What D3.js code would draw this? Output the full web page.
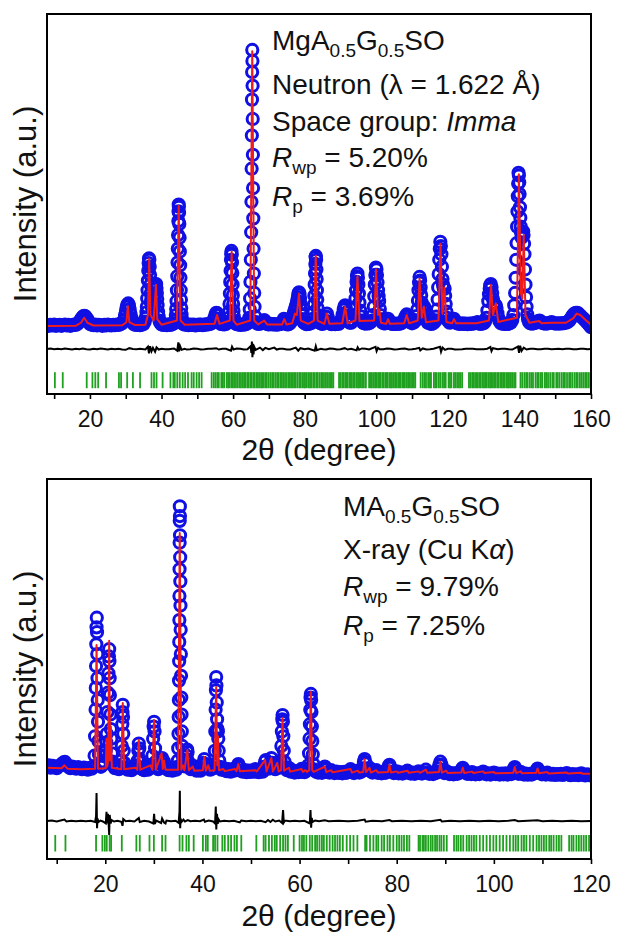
<!DOCTYPE html>
<html>
<head>
<meta charset="utf-8">
<script src="https://cdn.jsdelivr.net/npm/d3@7/dist/d3.min.js"></script>
<style>
  body { margin: 0; background: #ffffff; }
  text { font-family: "Liberation Sans", Arial, sans-serif; fill: #111; }
</style>
</head>
<body>
<svg id="fig" width="617" height="935"></svg>
<script>
// ---------- Neutron pattern (2θ in degrees, intensity in a.u.) ----------
const neutronObs = [
[8,3],[8.5,1],[9,4],[9.5,2],[10,5],[10.5,1],[11,3],[11.5,4],[12,1],[12.5,3],[13,5],[13.5,2],[14,4],[14.5,1],[15,3],[15.5,5],[16,4],[16.5,8],
[17,14],[17.3,20],[17.6,26],[17.9,32],[18.2,36],[18.5,37],[18.8,34],[19.1,28],[19.4,22],[19.7,14],[20,8],[20.5,5],
[21,3],[21.5,5],[22,2],[22.5,4],[23,3],[23.5,1],[24,4],[24.5,2],[25,5],[25.5,3],[26,2],[26.5,4],[27,3],[27.5,5],[28,4],[28.5,7],
[29,10],[29.4,20],[29.8,40],[30.1,58],[30.3,70],[30.5,78],[30.7,82],[30.9,74],[31.1,60],[31.35,44],[31.6,28],[31.9,16],[32.2,8],[32.6,5],
[33,4],[33.5,6],[34,3],[34.5,5],
[35,8],[35.3,16],[35.6,30],[35.8,50],[35.9,70],[36.0,100],[36.1,130],[36.2,165],[36.3,200],[36.4,228],[36.5,245],[36.6,240],[36.7,215],[36.8,185],[36.9,150],[37.0,120],[37.1,95],[37.2,80],[37.3,70],[37.45,60],[37.6,55],[37.75,65],[37.9,80],[38.0,98],[38.1,115],[38.2,132],[38.3,145],[38.4,151],[38.5,152],[38.6,138],[38.7,120],[38.8,98],[38.9,75],[39.05,52],[39.2,35],[39.4,20],[39.6,12],
[40,6],[40.5,4],[41,5],[41.5,3],[42,6],[42.5,4],[43,7],[43.5,10],[43.8,20],
[44.0,40],[44.1,62],[44.2,90],[44.3,130],[44.4,180],[44.48,230],[44.55,280],[44.62,330],[44.7,380],[44.75,415],[44.8,440],[44.85,432],[44.9,410],[44.97,370],[45.05,320],[45.12,270],[45.2,220],[45.28,175],[45.35,130],[45.42,95],[45.5,65],[45.6,42],[45.7,25],[45.9,14],[46.1,8],[46.5,5],
[47,6],[47.5,3],[48,5],[48.5,4],[49,5],[49.5,2],[50,4],[50.5,5],[51,5],[51.5,3],[52,5],[52.5,6],[53,6],[53.5,8],[54,10],[54.4,18],[54.8,30],[55.1,42],[55.3,48],[55.5,47],[55.7,40],[55.95,26],[56.2,13],[56.6,8],[57,7],[57.5,6],[58,8],[58.4,14],
[58.8,30],[58.9,52],[59.0,80],[59.1,118],[59.2,160],[59.3,200],[59.4,240],[59.48,262],[59.55,272],[59.62,258],[59.7,230],[59.78,192],[59.85,150],[59.92,112],[60.0,80],[60.1,55],[60.2,35],[60.4,18],[60.6,10],
[61,7],[61.5,6],[62,4],[62.5,6],[63,5],[63.5,7],[63.9,9],[64.2,12],[64.35,20],
[64.5,30],[64.65,60],[64.75,100],[64.85,160],[64.95,240],[65.05,340],[65.12,450],[65.18,570],[65.24,690],[65.28,820],[65.32,920],[65.36,1000],[65.40,960],[65.44,870],[65.48,750],[65.53,620],[65.58,500],[65.64,390],[65.72,280],[65.8,190],[65.9,120],[66.0,70],[66.15,35],[66.4,14],[66.7,10],
[67,8],[67.5,9],[68,10],[68.35,16],[68.7,22],[69.0,15],[69.3,9],[69.7,7],[70,6],[70.5,8],[71,6],[71.5,7],[72,5],[72.5,6],[73,7],[73.5,9],[73.9,16],[74.2,26],[74.5,18],[74.9,8],[75.2,6],[75.5,7],[75.9,10],
[76.3,18],[76.55,28],[76.8,40],[77.05,52],[77.3,62],[77.5,70],[77.7,80],[77.9,92],[78.1,105],[78.25,115],[78.4,122],[78.55,115],[78.7,100],[78.85,80],[79.0,60],[79.2,40],[79.4,25],[79.7,14],[80,10],[80.5,7],[81,8],[81.5,9],[82,12],[82.3,26],
[82.5,50],[82.6,78],[82.7,110],[82.8,150],[82.9,190],[82.98,225],[83.05,250],[83.12,254],[83.2,240],[83.28,205],[83.35,170],[83.42,130],[83.5,95],[83.6,65],[83.7,40],[83.9,22],[84.2,12],[84.6,9],[85,8],[85.4,12],[85.7,20],[85.95,34],[86.2,45],[86.45,32],[86.7,16],[87.1,9],[87.5,7],[88,8],[88.5,7],[89,9],[89.5,8],[89.9,14],
[90.3,25],[90.6,42],[90.9,60],[91.1,70],[91.3,75],[91.5,66],[91.7,50],[91.95,32],[92.2,18],[92.6,12],[93,12],[93.4,20],
[93.8,40],[94.0,68],[94.2,100],[94.35,130],[94.5,160],[94.62,180],[94.75,190],[94.88,175],[95.0,150],[95.15,118],[95.3,85],[95.5,56],[95.7,35],[96.0,20],[96.3,12],[96.6,10],[97,9],[97.5,10],[98,10],[98.4,14],[98.8,20],[99.05,40],
[99.3,70],[99.45,108],[99.6,150],[99.75,185],[99.9,212],[100.05,205],[100.2,185],[100.35,158],[100.5,130],[100.65,108],[100.8,90],[101.0,62],[101.2,40],[101.45,24],[101.7,13],[102.1,10],[102.5,10],[102.9,16],[103.3,26],[103.65,18],[104,10],[104.5,8],
[105,8],[105.5,9],[106,8],[106.5,9],[107,10],[107.4,15],[107.8,24],[108.15,34],[108.5,42],[108.8,34],[109.1,22],[109.5,14],[110,10],[110.5,13],[111,20],[111.25,36],
[111.5,60],[111.65,92],[111.8,130],[111.95,158],[112.1,178],[112.25,165],[112.4,140],[112.55,112],[112.7,85],[112.9,70],[113.1,65],[113.25,68],[113.4,70],[113.6,56],[113.8,40],[114.1,24],[114.4,12],[115,9],[115.5,8],[116,11],
[116.5,18],[116.75,34],[117.0,60],[117.15,96],[117.3,140],[117.45,188],[117.6,240],[117.75,280],[117.9,305],[118.05,290],[118.2,260],[118.35,215],[118.5,170],[118.65,150],[118.8,140],[118.95,138],[119.1,135],[119.25,110],[119.4,80],[119.6,52],[119.8,30],[120.1,18],[120.5,12],[120.9,14],[121.3,18],[121.7,26],[122.1,16],[122.5,10],[123,9],[123.5,8],[124,10],[124.5,8],[125,9],[125.5,7],[126,9],[126.5,8],[127,10],[127.5,10],[127.9,12],[128.3,14],[128.6,11],[129,8],[129.5,9],[130,10],[130.4,16],
[130.8,30],[131.05,56],[131.3,90],[131.5,115],[131.7,135],[131.85,148],[132.0,152],[132.2,140],[132.4,120],[132.6,98],[132.8,80],[133.0,76],[133.2,78],[133.4,74],[133.6,65],[133.85,46],[134.1,30],[134.4,18],[134.8,10],[135.3,9],[135.8,8],[136.3,9],[136.8,8],[137.2,10],[137.6,12],[138.0,22],
[138.3,40],[138.55,75],[138.8,120],[138.95,175],[139.1,240],[139.22,300],[139.35,360],[139.45,415],[139.55,470],[139.65,515],[139.75,555],[139.85,545],[139.95,520],[140.05,478],[140.15,430],[140.25,392],[140.35,360],[140.45,338],[140.6,320],[140.75,328],[140.9,340],[141.05,342],[141.15,330],[141.3,298],[141.4,260],[141.55,205],[141.7,150],[141.85,105],[142.0,70],[142.2,42],[142.4,25],[142.7,15],
[143,10],[143.5,9],[144,10],[144.5,12],[145,14],[145.3,18],[145.6,20],[145.9,17],[146.3,12],[146.7,10],[147,10],[147.5,9],[148,10],[148.5,12],[149,14],[149.5,11],[150,9],[150.5,10],[151,9],[151.5,10],[152,10],[152.5,11],[153,12],[153.5,15],
[154,20],[154.4,28],[154.8,36],[155.1,42],[155.5,46],[155.8,48],[156.2,48],[156.6,44],[157,38],[157.4,33],[157.8,28],[158.2,23],[158.6,18],[158.9,13],[159.3,8],[159.6,3],[160,-4]
];
const neutronCalc = [
[8,0],[16,1],[17.5,12],[18.4,30],[19.3,12],[21,2],[29,3],[30.2,14],[30.6,72],[31.0,14],[32.5,4],[35.5,5],[36.2,40],[36.55,245],[36.9,40],[37.8,20],[38.45,150],[38.8,25],[40,5],
[44.3,20],[44.8,435],[45.3,20],[46.5,5],[54.8,8],[55.5,40],[56.2,8],[59.1,20],[59.6,270],[60.1,20],[61,5],[64.8,20],[65.35,995],[65.9,20],[67,6],[68.7,20],[69.5,6],[73.7,6],[74.3,25],[74.9,6],
[76.5,10],[77.3,45],[77.8,40],[78.4,118],[78.9,20],[81,8],[82.6,20],[83.1,255],[83.6,20],[85.5,8],[86.2,45],[86.9,8],[90.5,10],[91.3,70],[92,10],[94.2,20],[94.75,180],[95.3,18],
[99.4,20],[99.95,205],[100.5,40],[100.9,60],[101.3,12],[102.8,8],[103.3,25],[103.8,8],[107.8,10],[108.5,40],[109.2,10],[111.6,20],[112.1,172],[112.7,30],[113.3,70],[113.9,14],
[117.4,20],[117.95,298],[118.5,45],[119.05,140],[119.6,15],[121.2,10],[121.7,25],[122.3,10],[128,10],[131.5,20],[132.05,150],[132.6,40],[133.4,82],[134.1,15],
[139.3,30],[139.85,550],[140.4,120],[140.8,100],[141.2,330],[141.7,40],[142.8,12],[145.5,18],[146.2,10],[149,12],[153,12],[155,28],[156,45],[157,40],[158.5,22],[160,5]
];
const neutronDiff = [
[8,0],[9,2],[10,-1],[11,1],[12,-1],[13,2],[14,0],[15,-2],[16,1],[17,-1],[18,2],[19,-1],[20,-2],[21,1],[22,-1],[23,2],[24,0],[25,-2],[26,1],[27,-1],[28,1],[29,-2],[30,-3],[31,3],[32,0],[33,-1],[34,1],[35.5,-2],[36.2,8],[36.5,-16],[36.8,10],[37.2,-8],[37.6,4],[38.2,-10],[38.6,6],[39.2,-2],[40,1],
[41,-1],[42,-1],[43,1],[43.5,2],[44.4,-6],[44.7,24],[44.9,-8],[45.2,10],[45.6,-3],[46.5,1],[47,-2],[48,-1],[49,2],[50,1],[51,-2],[52,-1],[53,1],[54,1],[55.3,3],[56,-2],[57,1],[58,1],[59.4,-6],[59.7,8],[60.1,-2],[61,2],[62,1],[63,-2],[64,-1],
[64.9,10],[65.1,-14],[65.25,27],[65.4,-30],[65.55,18],[65.7,-20],[65.9,8],[66.3,-3],[67.5,5],[68.3,-4],[69,4],[70,-1],[71.5,5],[72.2,-2],[73,1],[74,1],[75,-2],[76,-2],[77.5,5],[78.2,-6],[78.8,3],[80,-1],[81,2],
[82.8,-6],[83.1,10],[83.4,-4],[84.5,1],[85.2,-1],[86,-2],[87,2],[88,1],[89,-2],[90,-1],[91.2,3],[92,-2],[93,1],[94.5,-5],[94.8,6],[95.2,-3],[96,2],[97,1],[98,-2],[99.8,8],[100.1,-8],[100.5,4],[101,-1],[102,-1],[103,2],[104,1],[105,-2],[106,-1],[107,1],[108,2],[109,-2],[110,-1],
[111,1],[112,4],[112.3,-5],[113,2],[114,-2],[115,-1],[116,1],[117.8,8],[118.1,-10],[118.5,5],[119.2,-3],[120,1],[121,1],[122,-2],[124,-1],[125,1],[127,1],[128,-1],[130,-1],[131,1],[131.9,7],[132.2,-8],[132.6,3],[134,-1],[135,1],[136,1],[137,-1],[138,-2],
[139.6,9],[139.9,-14],[140.2,12],[140.6,-7],[141.2,5],[142,-2],[143,1],[144,1],[145,-1],[146,-1],[147,1],[148,1],[149,-1],[150,0],[151,1],[152,-1],[153,1],[154,1],[155,-1],[156,-1],[157,1],[158,1],[159,-1],[160,0]
];
const neutronBragg = [10.2,12.4,19.1,20.7,21.5,22.3,24.5,28.1,28.7,30.4,32.0,34.0,37.2,37.9,38.6,40.3,42.5,43.3,43.7,44.4,45.1,45.9,46.6,47.4,48.4,49.0,49.8,50.5,51.2,
54.0,54.6,55.1,55.6,56.0,56.7,57.1,57.5,58.2,58.6,59.0,59.5,59.9,60.3,60.8,61.3,61.8,62.2,62.7,63.1,63.5,64.0,64.3,64.8,65.2,65.7,66.0,66.5,66.9,67.3,67.8,68.1,68.6,69.1,69.4,69.9,70.4,70.9,71.3,71.8,72.3,72.7,73.2,73.6,74.0,74.5,74.9,75.4,75.8,76.2,76.7,77.1,77.5,78.0,78.5,78.8,79.3,79.8,80.1,80.6,81.1,81.5,81.9,82.4,82.8,83.3,83.6,84.1,84.6,85.0,85.4,85.9,86.3,86.8,87.2,87.6,88.0,
89.6,90.0,90.5,90.8,91.3,91.7,92.0,92.5,92.9,93.2,93.7,94.0,94.5,94.9,95.2,95.7,96.1,96.4,96.9,97.1,
98.0,98.5,98.8,99.3,99.7,100.0,100.5,100.9,101.2,101.7,102.0,102.5,102.9,103.2,103.7,104.1,104.4,104.9,105.3,105.6,106.1,106.5,106.8,107.3,107.7,108.0,108.5,108.9,109.2,109.7,110.1,110.5,110.9,
112.4,113.0,113.5,113.9,114.5,115.0,115.3,116.1,116.5,116.9,117.5,118.0,118.6,119.0,119.4,120.2,120.6,121.0,121.7,122.1,122.6,123.1,123.5,124.0,
125.9,126.3,126.8,127.1,127.6,128.0,128.4,128.9,129.2,129.7,130.1,130.5,130.9,131.4,131.8,132.1,132.6,133.0,133.4,133.9,134.2,134.7,135.1,135.5,135.9,136.4,136.8,137.1,137.6,138.0,138.5,138.9,
140.3,140.8,141.4,141.9,142.3,142.9,143.4,143.8,144.5,145.0,145.4,146.0,146.4,147.1,147.5,148.0,148.6,149.2,149.6,150.3,150.7,151.2,151.8,152.3,152.7,153.3,153.9,154.3,154.8,155.4,155.9,156.3,156.9,157.4,157.9,158.4,158.8,159.3,159.8];
const neutronTicks = [10,20,30,40,50,60,70,80,90,100,110,120,130,140,150,160];

// ---------- X-ray pattern ----------
const xrayObs = [
[8,34],[8.4,40],[8.8,30],[9.2,38],[9.6,33],[10.0,28],[10.4,36],[10.8,40],[11.1,46],[11.4,52],[11.7,54],[12.0,44],[12.4,34],[12.8,28],[13.2,35],[13.6,30],[14.0,26],[14.4,33],[14.8,28],[15.2,24],[15.6,31],[16.0,27],[16.4,22],[16.8,30],[17.2,26],[17.6,36],
[17.8,80],[17.9,160],[18.0,270],[18.05,360],[18.1,450],[18.15,540],[18.2,610],[18.25,650],[18.3,590],[18.35,500],[18.4,400],[18.45,310],[18.5,220],[18.6,140],[18.7,85],[18.9,50],
[19.1,34],[19.4,40],[19.7,55],[20.0,80],[20.1,100],[20.2,135],[20.3,170],[20.45,260],[20.55,340],[20.65,420],[20.75,490],[20.8,520],[20.85,470],[20.9,400],[20.95,330],[21.05,250],[21.15,190],[21.25,150],[21.35,90],[21.5,55],[21.7,38],[22.0,28],[22.4,32],[22.8,24],[23.1,34],
[23.3,60],[23.4,120],[23.5,210],[23.55,260],[23.6,290],[23.65,240],[23.7,170],[23.8,100],[23.95,50],[24.2,30],[24.6,22],[25.0,28],[25.4,20],[25.8,27],[26.1,35],[26.3,40],[26.5,32],[26.7,60],[26.8,100],[26.9,130],[27.0,110],[27.1,65],[27.3,32],[27.6,24],[28.0,20],[28.4,27],[28.8,22],[29.1,35],[29.3,42],[29.5,38],
[29.7,80],[29.85,150],[29.95,200],[30.05,220],[30.15,180],[30.25,110],[30.4,55],[30.6,34],[30.9,24],[31.2,32],[31.4,45],[31.55,65],[31.7,70],[31.9,45],[32.1,55],[32.3,38],[32.6,26],[33.0,20],[33.4,26],[33.8,18],[34.2,24],[34.6,22],[34.85,34],
[34.95,60],[35.02,110],[35.07,170],[35.11,240],[35.15,310],[35.18,390],[35.21,470],[35.23,550],[35.25,640],[35.27,740],[35.29,850],[35.31,960],[35.33,1050],[35.35,1110],[35.37,1070],[35.39,990],[35.42,900],[35.45,800],[35.48,700],[35.52,600],[35.56,500],[35.6,410],[35.65,320],[35.7,250],[35.76,180],[35.83,120],[35.9,80],
[36.0,55],[36.1,42],[36.3,36],[36.5,40],[36.65,60],[36.75,80],[36.85,105],[36.95,95],[37.1,55],[37.3,34],[37.6,24],[37.9,32],[38.1,38],[38.4,26],[38.8,18],[39.2,24],[39.6,18],[39.9,28],[40.2,50],[40.4,66],[40.6,45],[40.9,30],[41.1,38],[41.3,36],[41.6,22],[42.0,26],[42.3,30],
[42.4,45],[42.55,100],[42.65,180],[42.72,270],[42.78,350],[42.83,405],[42.88,370],[42.95,300],[43.02,230],[43.1,190],[43.18,180],[43.26,150],[43.35,100],[43.45,60],[43.6,34],
[43.9,22],[44.3,30],[44.6,20],[45.0,16],[45.4,24],[45.8,14],[46.2,20],[46.5,18],[46.7,28],[47.0,22],[47.2,36],[47.4,45],[47.6,34],[47.9,18],[48.3,14],[48.7,20],[49.1,12],[49.5,18],[49.9,13],[50.3,19],[50.7,14],[50.9,24],[51.2,16],[51.6,12],[52.0,18],[52.4,14],[52.7,34],[52.9,55],[53.05,62],[53.3,38],[53.6,26],[53.9,42],[54.2,70],[54.4,50],[54.7,30],[55.0,24],[55.2,38],[55.4,50],[55.6,44],[55.8,30],[56.0,36],
[56.1,60],[56.25,120],[56.35,180],[56.45,230],[56.5,248],[56.57,220],[56.65,160],[56.75,100],[56.9,55],[57.1,30],[57.4,20],[57.7,30],[57.9,28],[58.2,14],[58.6,18],[59.0,10],[59.4,16],[59.8,12],[60.2,18],[60.4,25],[60.7,14],[61.0,12],[61.2,20],[61.4,18],[61.65,26],
[61.8,40],[61.95,90],[62.05,150],[62.13,210],[62.2,270],[62.26,320],[62.32,335],[62.38,310],[62.45,260],[62.53,200],[62.62,140],[62.72,85],[62.85,45],[63.1,22],[63.4,14],[63.8,10],[64.2,16],[64.6,9],
[65.0,26],[65.2,35],[65.4,24],[65.8,12],[66.2,10],[66.5,20],[66.8,13],[67.2,8],[67.6,14],[68.0,9],[68.4,12],[68.8,7],[69.2,13],[69.6,9],[70.0,12],[70.3,18],[70.5,24],[70.8,12],[71.2,8],[71.6,13],[72.0,18],[72.3,10],[72.7,14],[73.0,28],[73.25,55],[73.4,66],[73.6,48],[73.9,24],[74.2,20],[74.4,30],[74.7,16],[75.0,10],[75.4,14],[75.8,20],[76.1,9],[76.5,12],[76.9,7],[77.3,12],[77.7,9],[78.0,16],[78.3,34],[78.5,42],[78.7,30],[79.0,14],[79.4,8],[79.8,12],
[80.0,15],[80.4,7],[80.8,11],[81.2,6],[81.6,10],[82.0,12],[82.2,18],[82.5,9],[82.9,6],[83.3,10],[83.7,5],[84.1,9],[84.5,15],[84.8,8],[85.2,6],[85.6,10],[86.0,22],[86.3,10],[86.7,5],[87.1,9],[87.5,4],[87.9,8],[88.3,10],[88.6,28],[88.8,42],[89.0,55],[89.2,42],[89.45,20],[89.8,8],
[90.2,16],[90.5,8],[90.9,4],[91.3,8],[91.7,3],[92.1,7],[92.5,5],[92.9,9],[93.2,16],[93.4,24],[93.6,30],[93.8,22],[94.1,10],[94.5,5],[94.9,8],[95.3,4],[95.5,12],[95.8,7],[96.2,3],[96.6,7],[97.0,4],[97.4,8],[97.8,14],[98.1,6],[98.5,3],[98.9,7],[99.3,2],[99.7,6],
[100.0,10],[100.4,4],[100.8,6],[101.2,2],[101.6,6],[102.0,3],[102.4,7],[102.8,2],[103.2,6],[103.6,4],[103.9,14],[104.1,26],[104.3,33],[104.5,24],[104.8,10],[105.1,5],[105.5,13],[105.8,6],[106.2,2],[106.6,6],[107.0,1],[107.4,5],[107.8,2],[108.2,6],[108.6,10],[108.8,20],[109.0,27],[109.2,18],[109.5,8],[109.9,3],
[110.3,6],[110.7,2],[111.0,10],[111.4,4],[111.8,1],[112.2,5],[112.6,0],[113.0,4],[113.4,1],[113.8,5],[114.2,0],[114.6,4],[115.0,8],[115.4,2],[115.8,-1],[116.2,4],[116.6,0],[117.0,3],[117.4,-1],[117.8,4],[118.0,7],[118.4,1],[118.8,-2],[119.2,3],[119.6,-1],[120,0]
];
const xrayCalc = [
[8,30],[11,28],[11.6,40],[12.2,26],[15,24],[17.9,26],[18.2,537],[18.5,26],[19.8,28],[20.1,28],[20.25,150],[20.4,35],[20.6,60],[20.8,555],[21.0,60],[21.15,200],[21.35,30],
[23.3,24],[23.6,298],[23.9,24],[26.2,30],[26.6,22],[26.9,145],[27.2,22],[29.3,40],[29.7,22],[30.05,227],[30.4,22],[31.6,90],[31.85,25],[32.1,60],[32.4,22],
[35.0,22],[35.33,1000],[35.65,22],[36.0,40],[36.3,20],[36.9,103],[37.2,20],[38.0,35],[38.3,18],[40.1,20],[40.4,74],[40.7,18],[41.2,40],[41.5,18],
[42.5,20],[42.83,364],[43.05,40],[43.2,160],[43.4,20],[44.3,25],[44.6,16],[46.7,25],[47.0,16],[47.4,45],[47.7,16],[50.9,20],[51.2,15],[52.9,62],[53.2,15],[54.2,70],[54.5,15],[55.4,50],[55.7,15],
[56.2,20],[56.5,235],[56.8,18],[57.8,30],[58.1,14],[60.4,25],[60.7,13],[61.2,20],[61.5,13],[62.0,20],[62.32,343],[62.6,20],[62.9,13],[65.2,35],[65.5,12],[66.5,20],[66.8,11],
[70.5,25],[70.8,10],[72.0,18],[72.3,10],[73.1,12],[73.4,65],[73.7,12],[74.4,30],[74.7,10],[75.8,20],[76.1,10],[78.2,12],[78.5,42],[78.8,10],[80.0,15],[80.3,9],[82.2,18],[82.5,9],
[84.5,15],[84.8,9],[86.0,22],[86.3,9],[88.7,12],[89.0,55],[89.3,10],[90.2,18],[90.5,8],[93.3,10],[93.6,30],[93.9,8],[95.5,14],[95.8,8],[97.8,15],[98.1,8],[100,12],[100.3,7],
[104.0,9],[104.3,33],[104.6,8],[105.5,15],[105.8,7],[108.7,9],[109.0,27],[109.3,7],[111,12],[111.3,6],[115,10],[115.3,6],[118,9],[118.3,5],[120,5]
];
const xrayDiff = [
[8,0],[9,2],[10,-2],[11,3],[11.6,6],[12,-2],[13,1],[14,-1],[15,1],[16,-1],[17,1],[17.9,-4],[18.1,20],[18.2,116],[18.3,-30],[18.4,10],[18.6,-4],[19,2],[19.5,-2],
[20.1,-10],[20.25,38],[20.4,-10],[20.55,30],[20.7,-15],[20.8,-58],[20.9,25],[21.1,-10],[21.3,4],[21.8,-2],[22.5,1],[23.3,-3],[23.55,-20],[23.7,8],[24.2,-1],[25,1],[26,-2],[26.9,12],[27.1,-4],[28,1],[29,-2],
[29.9,-10],[30.05,30],[30.2,-12],[30.5,2],[31.5,-8],[31.7,10],[32.1,-6],[32.4,-10],[32.6,2],[33.5,-1],[34.5,1],[35.1,-8],[35.28,40],[35.35,125],[35.42,-30],[35.5,10],[35.7,-4],[36.1,6],[36.4,-2],[37,4],[37.5,-1],
[38.5,1],[39.5,-1],[40.3,6],[40.5,-3],[41.3,2],[42.2,-2],[42.6,-10],[42.75,60],[42.85,-35],[43.0,30],[43.15,-12],[43.3,8],[43.6,-2],[44.5,1],[45.5,-1],[46.5,1],[47.7,-6],[48,2],[49,-1],[50,1],[51,-1],[52,1],
[53.0,-5],[53.5,4],[54.0,-4],[54.5,5],[55.0,-2],[55.8,2],[56.4,-8],[56.6,45],[56.75,-6],[57.0,2],[58,-1],[59,1],[60,-1],[61,1],[62.1,-10],[62.25,45],[62.38,-28],[62.5,12],[62.7,-4],[63.2,2],[64,-1],
[65.2,3],[66,-1],[68,1],[70,-1],[72,1],[73.4,6],[73.6,-3],[75,1],[77,-1],[78.5,4],[79,-1],[81,1],[83,-1],[85,1],[87,-1],[89,5],[89.3,-2],[91,1],[93,-1],[95,1],[97,-1],[99,1],[101,-1],[103,1],
[104.3,4],[105,-1],[107,1],[109,3],[110,-1],[112,1],[114,-1],[116,1],[118,-1],[120,0]
];
const xrayBragg = [9.7,11.8,18.1,19.4,19.9,20.3,20.9,21.2,23.4,26.4,27.1,29.1,30.0,31.7,32.4,35.3,35.9,36.7,37.2,38.2,40.1,40.7,41.1,42.2,42.6,43.1,44.1,44.6,45.3,45.9,46.6,47.1,48.0,
51.1,52.6,53.0,53.7,54.3,54.9,55.3,56.0,56.6,57.1,57.6,58.8,60.0,60.5,60.9,61.4,62.1,62.6,63.2,63.6,64.1,64.6,65.0,65.6,66.2,66.8,67.3,67.8,68.3,68.9,69.7,70.4,71.1,71.9,
73.5,73.8,74.5,75.2,75.8,76.2,76.9,77.4,78.1,78.6,79.3,80.0,80.5,81.0,81.5,82.1,82.6,84.5,84.8,85.3,85.6,86.0,86.5,87.0,87.4,87.9,88.3,88.8,89.2,89.7,90.3,
91.8,92.3,92.7,93.2,93.7,94.4,94.9,95.4,95.9,96.4,97.1,97.8,98.5,99.2,99.9,100.5,101.2,101.9,102.6,103.3,104.0,104.5,105.0,105.7,106.2,106.7,107.4,108.1,108.8,109.3,109.8,110.3,110.8,111.4,111.8,112.3,112.9,113.4,113.9,
115.5,116.0,116.4,117.0,117.5,118.0,118.5,119.0,119.6];
const xrayTicks = [10,20,30,40,50,60,70,80,90,100,110,120];

// ---------- Text blocks ----------
const neutronLabel = [
  [{t:"MgA"},{t:"0.5",sub:1},{t:"G"},{t:"0.5",sub:1},{t:"SO"}],
  [{t:"Neutron (λ = 1.622 Å)"}],
  [{t:"Space group: "},{t:"Imma",it:1}],
  [{t:"R",it:1},{t:"wp",sub:1},{t:" = 5.20%"}],
  [{t:"R",it:1},{t:"p",sub:1},{t:" = 3.69%"}]
];
const xrayLabel = [
  [{t:"MA"},{t:"0.5",sub:1},{t:"G"},{t:"0.5",sub:1},{t:"SO"}],
  [{t:"X-ray (Cu K"},{t:"α",it:1},{t:")"}],
  [{t:"R",it:1},{t:"wp",sub:1},{t:" = 9.79%"}],
  [{t:"R",it:1},{t:"p",sub:1},{t:" = 7.25%"}]
];

const BLUE = "#1010e4", RED = "#f01c1c", GREEN = "#1fa01f";
const svg = d3.select("#fig");
const left = 47, right = 591;

const panels = [
  { key: "n", xDomain: [8, 160], yDomain: [-246, 1130], top: 14, bottom: 394,
    obs: neutronObs, calc: neutronCalc, diff: neutronDiff, bragg: neutronBragg, ticks: neutronTicks,
    diffBase: -83, braggHi: -167, braggLo: -225, titleY: 460,
    label: neutronLabel, labelX: 272, labelY: [50, 94, 131, 167, 206] },
  { key: "x", xDomain: [8, 120], yDomain: [-347, 1223], top: 479, bottom: 859,
    obs: xrayObs, calc: xrayCalc, diff: xrayDiff, bragg: xrayBragg, ticks: xrayTicks,
    diffBase: -190, braggHi: -248, braggLo: -316, titleY: 926,
    label: xrayLabel, labelX: 343, labelY: [516, 559, 596, 635] }
];

panels.forEach(p => {
  const x = d3.scaleLinear().domain(p.xDomain).range([left, right]);
  const y = d3.scaleLinear().domain(p.yDomain).range([p.bottom, p.top]);
  const g = svg.append("g");

  const clipId = "clip-" + p.key;
  svg.append("clipPath").attr("id", clipId)
    .append("rect").attr("x", left).attr("y", p.top)
    .attr("width", right - left).attr("height", p.bottom - p.top);

  const plot = g.append("g").attr("clip-path", `url(#${clipId})`);

  // observed points: open circles
  plot.append("g").selectAll("circle").data(p.obs).join("circle")
    .attr("cx", d => x(d[0])).attr("cy", d => y(d[1])).attr("r", 5.6)
    .attr("fill", "none").attr("stroke", BLUE).attr("stroke-width", 3);

  // calculated profile
  const line = d3.line().x(d => x(d[0])).y(d => y(d[1]));
  plot.append("path").datum(p.calc).attr("d", line)
    .attr("fill", "none").attr("stroke", RED).attr("stroke-width", 2).attr("stroke-linejoin", "round");

  // difference curve, shifted below the pattern
  const dline = d3.line().x(d => x(d[0])).y(d => y(d[1] + p.diffBase));
  plot.append("path").datum(p.diff).attr("d", dline)
    .attr("fill", "none").attr("stroke", "#000").attr("stroke-width", 2);

  // Bragg reflection markers
  plot.append("g").selectAll("line").data(p.bragg).join("line")
    .attr("x1", d => x(d)).attr("x2", d => x(d))
    .attr("y1", y(p.braggHi)).attr("y2", y(p.braggLo))
    .attr("stroke", GREEN).attr("stroke-width", 1.8);

  // x axis
  const ax = g.append("g").attr("transform", `translate(0,${p.bottom})`)
    .call(d3.axisBottom(x).tickValues(p.ticks).tickSize(5).tickPadding(12)
      .tickFormat(d => d % 20 === 0 ? d : ""));
  ax.select(".domain").remove();
  ax.selectAll(".tick line").attr("stroke", "#000").attr("stroke-width", 1.6);
  ax.selectAll(".tick text").attr("font-size", 23).attr("fill", "#111")
    .attr("font-family", '"Liberation Sans", Arial, sans-serif');

  // frame
  g.append("rect").attr("x", left).attr("y", p.top)
    .attr("width", right - left).attr("height", p.bottom - p.top)
    .attr("fill", "none").attr("stroke", "#000").attr("stroke-width", 2);

  // axis titles
  g.append("text").attr("x", (left + right) / 2).attr("y", p.titleY)
    .attr("text-anchor", "middle").attr("font-size", 30).text("2θ (degree)");
  g.append("text")
    .attr("transform", `translate(25,${(p.top + p.bottom) / 2}) rotate(-90)`)
    .attr("text-anchor", "middle").attr("dominant-baseline", "central")
    .attr("font-size", 31).text("Intensity (a.u.)");

  // annotation block
  p.label.forEach((parts, i) => {
    const t = g.append("text").attr("x", p.labelX).attr("y", p.labelY[i]).attr("font-size", 28);
    let shifted = false;
    parts.forEach(s => {
      const ts = t.append("tspan").text(s.t);
      if (s.it) ts.attr("font-style", "italic");
      if (s.sub) { ts.attr("font-size", 19).attr("dy", shifted ? 0 : 7); shifted = true; }
      else if (shifted) { ts.attr("dy", -7); shifted = false; }
    });
  });
});
</script>
</body>
</html>
